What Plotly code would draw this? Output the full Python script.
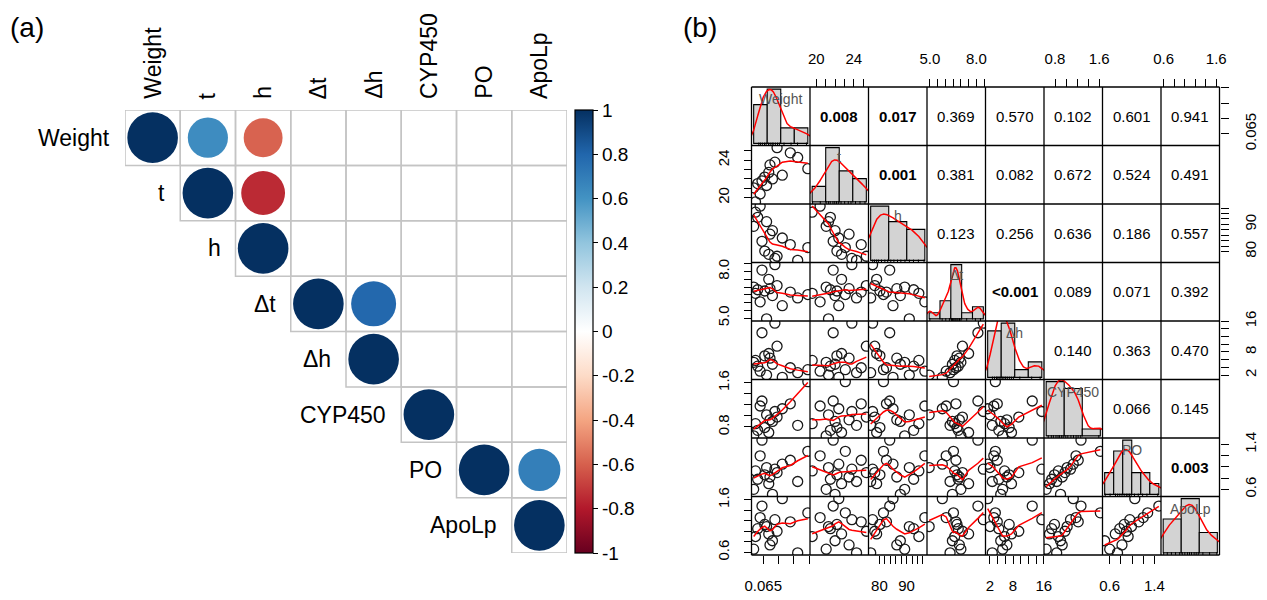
import numpy as np
import plotly.graph_objects as go
from plotly.colors import sample_colorscale

# ---------------- data ----------------
var_names = ["Weight", "t", "h", "Δt", "Δh", "CYP450", "PO", "ApoLp"]

# panel (a): significant Pearson r (upper triangle), None = not shown
corr_a = [
    [1.00, 0.63, -0.59, None, None, None, None, None],
    [None, 1.00, -0.75, None, None, None, None, None],
    [None, None, 1.00, None, None, None, None, None],
    [None, None, None, 1.00, 0.79, None, None, None],
    [None, None, None, None, 1.00, None, None, None],
    [None, None, None, None, None, 1.00, None, None],
    [None, None, None, None, None, None, 1.00, 0.69],
    [None, None, None, None, None, None, None, 1.00],
]
cbar_ticks = [1, 0.8, 0.6, 0.4, 0.2, 0, -0.2, -0.4, -0.6, -0.8, -1]
cbar_text = ["1", "0.8", "0.6", "0.4", "0.2", "0", "-0.2", "-0.4", "-0.6", "-0.8", "-1"]

# panel (b): 16 observations per variable
weight = [0.0625, 0.0640, 0.0619, 0.0661, 0.0632, 0.0646, 0.0680, 0.0655,
          0.0712, 0.0668, 0.0795, 0.0672, 0.0688, 0.0762, 0.0738, 0.0695]
t_vals = [19.55, 20.4, 21.05, 21.3, 21.5, 21.8, 22.0, 22.2,
          22.4, 22.7, 23.1, 23.5, 23.8, 24.3, 24.8, 25.35]
h_vals = [94.5, 96.7, 89.3, 91.0, 92.6, 83.8, 87.7, 80.2,
          85.0, 79.0, 81.5, 86.4, 77.5, 76.8, 82.6, 78.3]
dt_vals = [6.6, 6.05, 7.0, 4.95, 6.83, 8.1, 6.45, 6.75,
           5.8, 7.5, 6.52, 6.9, 8.45, 6.3, 6.68, 7.1]
dh_vals = [5.8, 3.0, 5.3, 2.0, 4.3, 13.0, 4.8, 7.0,
           1.4, 7.6, 3.4, 6.4, 15.5, 2.6, 3.9, 9.5]
cyp_vals = [0.86, 1.18, 0.64, 1.02, 0.74, 1.27, 0.90, 0.79,
            1.13, 0.70, 1.62, 0.93, 1.08, 0.83, 1.22, 0.98]
po_vals = [0.93, 1.20, 0.60, 0.99, 0.78, 1.48, 0.51, 0.86,
           1.05, 0.70, 1.28, 0.82, 0.96, 0.74, 1.12, 0.90]
apo_vals = [0.90, 1.26, 0.66, 1.09, 1.05, 1.48, 0.82, 1.13,
            1.62, 0.95, 1.35, 0.74, 1.22, 0.59, 1.18, 1.00]

# histogram breaks per variable
hist_breaks = [
    [0.060, 0.065, 0.070, 0.075, 0.080],
    [19.5, 21.0, 22.5, 24.0, 25.5],
    [76, 83, 90, 97],
    [4.9, 5.65, 6.4, 7.15, 7.9, 8.65],
    [0, 4, 8, 12, 16],
    [0.6, 0.95, 1.3, 1.65],
    [0.5, 0.5 + 1 / 6, 0.5 + 2 / 6, 1.0, 0.5 + 4 / 6, 0.5 + 5 / 6, 1.5],
    [0.58, 0.93, 1.28, 1.63],
]

# axis ticks / labels (only some labels drawn, like R's overlap rule)
tick_vals = [
    [0.065, 0.070, 0.075, 0.080],
    [20, 21, 22, 23, 24, 25],
    [80, 82, 84, 86, 88, 90, 92, 94, 96],
    [5.0, 5.5, 6.0, 6.5, 7.0, 7.5, 8.0, 8.5],
    [2, 4, 6, 8, 10, 12, 14, 16],
    [0.8, 1.0, 1.2, 1.4, 1.6],
    [0.6, 0.8, 1.0, 1.2, 1.4],
    [0.6, 0.8, 1.0, 1.2, 1.4, 1.6],
]
tick_text = [
    ["0.065", "", "", ""],
    ["20", "", "", "", "24", ""],
    ["80", "", "", "", "", "90", "", "", ""],
    ["5.0", "", "", "", "", "", "8.0", ""],
    ["2", "", "", "8", "", "", "", "16"],
    ["0.8", "", "", "", "1.6"],
    ["0.6", "", "", "", "1.4"],
    ["0.6", "", "", "", "", "1.6"],
]

# p-values (upper triangle, row by row)
p_text = [
    ["0.008", "0.017", "0.369", "0.570", "0.102", "0.601", "0.941"],
    ["0.001", "0.381", "0.082", "0.672", "0.524", "0.491"],
    ["0.123", "0.256", "0.636", "0.186", "0.557"],
    ["<0.001", "0.089", "0.071", "0.392"],
    ["0.140", "0.363", "0.470"],
    ["0.066", "0.145"],
    ["0.003"],
]

data_b = [weight, t_vals, h_vals, dt_vals, dh_vals, cyp_vals, po_vals, apo_vals]

# ---------------- helpers ----------------
PAGE_W, PAGE_H, OFF = 1267, 600, 8      # page has an 8px body margin
W, H = PAGE_W - OFF, PAGE_H - OFF
FONT = "Arial, Liberation Sans, sans-serif"


def fx(px):
    return (px - OFF) / W


def fy(py):
    return 1 - (py - OFF) / H


def lowess(x, y, f=2 / 3, it=3):
    x = np.asarray(x, float)
    y = np.asarray(y, float)
    o = np.argsort(x, kind="stable")
    x, y = x[o], y[o]
    n = len(x)
    r = max(min(int(round(f * n)), n), 2)
    h = np.array([np.sort(np.abs(x - x[i]))[r - 1] for i in range(n)])
    h = np.maximum(h, 1e-12)
    w = np.clip(np.abs((x[None, :] - x[:, None]) / h[:, None]), 0, 1)
    w = (1 - w ** 3) ** 3
    yest = np.zeros(n)
    delta = np.ones(n)
    for _ in range(it + 1):
        for i in range(n):
            wi = delta * w[i]
            A = np.array([[wi.sum(), (wi * x).sum()], [(wi * x).sum(), (wi * x * x).sum()]])
            b = np.array([(wi * y).sum(), (wi * y * x).sum()])
            try:
                beta = np.linalg.solve(A, b)
                yest[i] = beta[0] + beta[1] * x[i]
            except np.linalg.LinAlgError:
                yest[i] = (wi * y).sum() / wi.sum()
        res = y - yest
        s = np.median(np.abs(res))
        if s == 0:
            break
        d = np.clip(res / (6 * s), -1, 1)
        delta = (1 - d ** 2) ** 2
    return x, yest


def kde(v):
    v = np.asarray(v, float)
    n = len(v)
    sd = v.std(ddof=1)
    iqr = np.subtract(*np.percentile(v, [75, 25]))
    lo = min(sd, iqr / 1.34) if iqr > 0 else sd
    bw = 0.9 * lo * n ** -0.2
    g = np.linspace(v.min() - 3 * bw, v.max() + 3 * bw, 512)
    d = np.exp(-0.5 * ((g[:, None] - v[None, :]) / bw) ** 2).sum(1) / (n * bw * np.sqrt(2 * np.pi))
    return g, d


fig = go.Figure()
shapes = []
annots = []

# ---------------- panel (a) ----------------
cs = ["#67001F", "#B2182B", "#D6604D", "#F4A582", "#FDDBC7", "#FFFFFF",
      "#D1E5F0", "#92C5DE", "#4393C3", "#2166AC", "#053061"]
colorscale = [[k / 10, c] for k, c in enumerate(cs)]

A_L, A_R, A_T, A_B = 125, 567, 110, 553
layout_axes = {
    "xaxis": dict(domain=[fx(A_L), fx(A_R)], range=[0.5, 8.5], visible=False, fixedrange=True,
                  automargin=False),
    "yaxis": dict(domain=[fy(A_B), fy(A_T)], range=[8.5, 0.5], visible=False, fixedrange=True,
                  automargin=False),
}

for i in range(8):
    for j in range(i, 8):
        shapes.append(dict(type="rect", xref="x", yref="y", x0=j + 0.5, x1=j + 1.5,
                           y0=i + 0.5, y1=i + 1.5, line=dict(color="#C4C4C4", width=1.5),
                           layer="below"))
        r = corr_a[i][j]
        if r is not None:
            rad = 0.458 * np.sqrt(abs(r))
            col = sample_colorscale(colorscale, [(r + 1) / 2])[0]
            shapes.append(dict(type="circle", xref="x", yref="y",
                               x0=j + 1 - rad, x1=j + 1 + rad, y0=i + 1 - rad, y1=i + 1 + rad,
                               fillcolor=col, line=dict(width=0), layer="above"))

for i, name in enumerate(var_names):
    annots.append(dict(x=i + 0.5, y=i + 1, xref="x", yref="y", text=name, showarrow=False,
                       xanchor="right", yanchor="middle", xshift=-13,
                       font=dict(size=23, color="black", family=FONT)))
    annots.append(dict(x=i + 1, y=0.5, xref="x", yref="y", text=name, showarrow=False,
                       textangle=-90, xanchor="center", yanchor="bottom", yshift=9,
                       font=dict(size=23, color="black", family=FONT)))

fig.add_trace(go.Scatter(
    x=[1, 1], y=[1, 1], xaxis="x", yaxis="y", mode="markers", hoverinfo="skip",
    marker=dict(size=1, color=[-1, 1], cmin=-1, cmax=1, colorscale=colorscale, showscale=True,
                colorbar=dict(thickness=18, thicknessmode="pixels", len=A_B - A_T, lenmode="pixels",
                              x=fx(575), xanchor="left", y=fy(A_T), yanchor="top", xpad=0, ypad=0,
                              outlinewidth=1.2, outlinecolor="black",
                              tickvals=cbar_ticks, ticktext=cbar_text, ticks="outside",
                              ticklen=5, tickcolor="black", tickwidth=1.2,
                              tickfont=dict(size=19, color="black", family=FONT))),
))

annots.append(dict(x=fx(8), y=fy(10), xref="paper", yref="paper", text="(a)", showarrow=False,
                   xanchor="left", yanchor="top", font=dict(size=28, color="black", family=FONT)))
annots.append(dict(x=fx(681), y=fy(10), xref="paper", yref="paper", text="(b)", showarrow=False,
                   xanchor="left", yanchor="top", font=dict(size=28, color="black", family=FONT)))

# ---------------- panel (b) ----------------
BX, BY, CELL = 751.5, 87.0, 58.5


def col_dom(c):
    return [fx(BX + c * CELL), fx(BX + (c + 1) * CELL)]


def row_dom(r):
    return [fy(BY + (r + 1) * CELL), fy(BY + r * CELL)]


ranges = []
for v in data_b:
    lo, hi = min(v), max(v)
    pad = 0.04 * (hi - lo)
    ranges.append([lo - pad, hi + pad])

tickfont = dict(size=15, color="black", family=FONT)
for k in range(8):
    top = (k % 2 == 1)
    layout_axes[f"xaxis{k + 2}"] = dict(
        domain=col_dom(k), range=ranges[k], anchor="free", automargin=False,
        position=fy(BY) if top else fy(BY + 8 * CELL), side="top" if top else "bottom",
        showgrid=False, zeroline=False, showline=False, ticks="outside", ticklen=8,
        tickwidth=1.2, tickcolor="black", tickvals=tick_vals[k], ticktext=tick_text[k],
        tickfont=tickfont, ticklabelstandoff=9, fixedrange=True)
    left = (k % 2 == 1)
    layout_axes[f"yaxis{k + 2}"] = dict(
        domain=row_dom(k), range=ranges[k], anchor="free", automargin=False,
        position=fx(BX) if left else fx(BX + 8 * CELL), side="left" if left else "right",
        showgrid=False, zeroline=False, showline=False, ticks="outside", ticklen=8,
        tickwidth=1.2, tickcolor="black", tickvals=tick_vals[k], ticktext=tick_text[k],
        tickfont=tickfont, tickangle=-90, ticklabelstandoff=9, fixedrange=True)

    # diagonal histogram axes
    br = np.asarray(hist_breaks[k], float)
    counts, _ = np.histogram(data_b[k], bins=br)
    widths = np.diff(br)
    dens = counts / (len(data_b[k]) * widths)
    dmax = dens.max()
    xr = [br[0] - 0.04 * (br[-1] - br[0]), br[-1] + 0.04 * (br[-1] - br[0])]
    yr = [-0.04 * dmax, 1.04 * dmax]
    xa, ya = f"x{k + 10}", f"y{k + 10}"
    layout_axes[f"xaxis{k + 10}"] = dict(domain=col_dom(k), range=xr, anchor=ya, visible=False,
                                         fixedrange=True, automargin=False)
    layout_axes[f"yaxis{k + 10}"] = dict(domain=row_dom(k), range=yr, anchor=xa, visible=False,
                                         fixedrange=True, automargin=False)
    fig.add_trace(go.Bar(x=(br[:-1] + br[1:]) / 2, y=dens, width=widths, xaxis=xa, yaxis=ya,
                         marker=dict(color="#D3D3D3", line=dict(color="black", width=1.1)),
                         hoverinfo="skip"))
    g, d = kde(data_b[k])
    fig.add_trace(go.Scatter(x=g, y=d, xaxis=xa, yaxis=ya, mode="lines",
                             line=dict(color="red", width=1.5), hoverinfo="skip"))
    rx, ry = [], []
    for v in data_b[k]:
        rx += [v, v, None]
        ry += [yr[0], yr[0] + 0.05 * (yr[1] - yr[0]), None]
    fig.add_trace(go.Scatter(x=rx, y=ry, xaxis=xa, yaxis=ya, mode="lines",
                             line=dict(color="black", width=1), hoverinfo="skip"))
    annots.append(dict(x=0.5, y=1, xref=f"x{k + 10} domain", yref=f"y{k + 10} domain",
                       text=var_names[k], showarrow=False, xanchor="center", yanchor="top",
                       yshift=-2, font=dict(size=14, color="#555555", family=FONT)))

# lower-triangle scatter + lowess
for r in range(8):
    for c in range(r):
        xs, ys = data_b[c], data_b[r]
        fig.add_trace(go.Scatter(x=xs, y=ys, xaxis=f"x{c + 2}", yaxis=f"y{r + 2}", mode="markers",
                                 marker=dict(symbol="circle-open", size=10, color="#1a1a1a",
                                             line=dict(width=1.3, color="#1a1a1a")),
                                 hoverinfo="skip"))
        lx, ly = lowess(xs, ys)
        fig.add_trace(go.Scatter(x=lx, y=ly, xaxis=f"x{c + 2}", yaxis=f"y{r + 2}", mode="lines",
                                 line=dict(color="red", width=1.5), hoverinfo="skip"))

# make sure axes without lower-cell traces exist (x9 = ApoLp column, y2 = Weight row)
fig.add_trace(go.Scatter(x=[None], y=[None], xaxis="x9", yaxis="y2", mode="markers",
                         hoverinfo="skip"))

# upper-triangle p-values
for r in range(7):
    for idx, s in enumerate(p_text[r]):
        c = r + 1 + idx
        val = float(s.replace("<", ""))
        txt = f"<b>{s}</b>" if val < 0.05 else s
        annots.append(dict(x=fx(BX + (c + 0.5) * CELL), y=fy(BY + (r + 0.5) * CELL),
                           xref="paper", yref="paper", text=txt, showarrow=False,
                           xanchor="center", yanchor="middle",
                           font=dict(size=15, color="black", family=FONT)))

# grid lines of the matrix
for k in range(9):
    shapes.append(dict(type="line", xref="paper", yref="paper",
                       x0=fx(BX + k * CELL), x1=fx(BX + k * CELL), y0=fy(BY), y1=fy(BY + 8 * CELL),
                       line=dict(color="black", width=1.3), layer="above"))
    shapes.append(dict(type="line", xref="paper", yref="paper",
                       x0=fx(BX), x1=fx(BX + 8 * CELL), y0=fy(BY + k * CELL), y1=fy(BY + k * CELL),
                       line=dict(color="black", width=1.3), layer="above"))

fig.update_layout(
    width=W, height=H, margin=dict(l=0, r=0, t=0, b=0, autoexpand=False),
    paper_bgcolor="white", plot_bgcolor="white", showlegend=False,
    shapes=shapes, annotations=annots, font=dict(family=FONT, color="black"),
    **layout_axes,
)

fig.write_html("out.html")
